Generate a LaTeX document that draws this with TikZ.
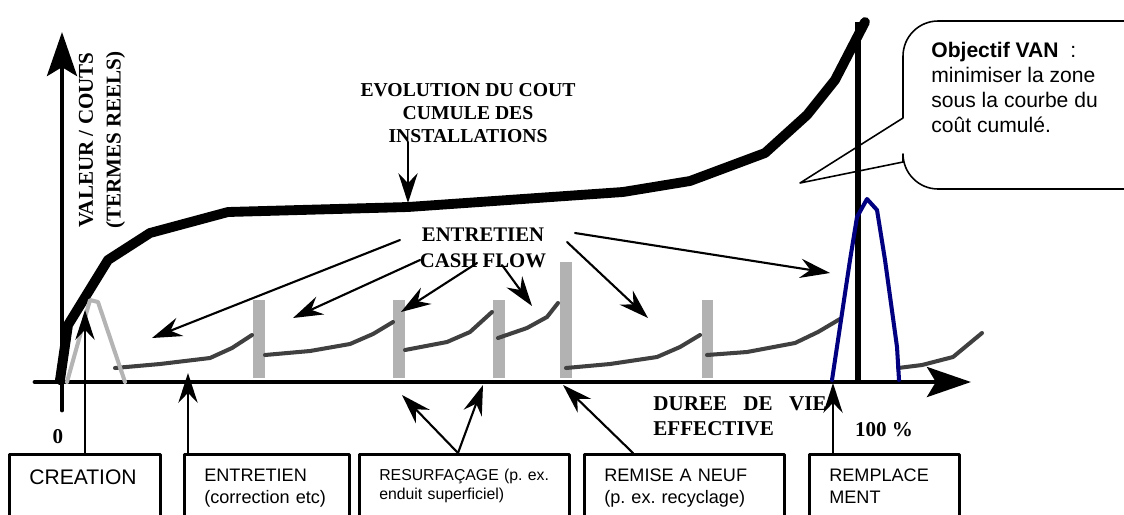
\documentclass[tikz,border=0pt]{standalone}
\usepackage{fontspec}
\setmainfont{Liberation Serif}
\setsansfont{Liberation Sans}
\usetikzlibrary{arrows.meta}
\frenchspacing

\definecolor{careGray}{HTML}{404040}
\definecolor{barGray}{HTML}{B2B2B2}
\definecolor{peakGray}{HTML}{B4B4B4}
\definecolor{peakBlue}{HTML}{000080}

\begin{document}
\begin{tikzpicture}[
            x=0.02cm, y=-0.02cm,
            line cap=round, line join=round,
            axis/.style={line width=2.8pt, -{Stealth[length=25pt, width=17pt, inset=5pt]}},
            cost curve/.style={line width=5.6pt},
            care curve/.style={line width=2.3pt, careGray},
            peak curve/.style={line width=2.3pt},
            pointer/.style={line width=1.2pt, -{Stealth[length=17pt, width=11pt, inset=5.7pt]}},
            head label/.style={font=\bfseries\fontsize{12}{14.2}\selectfont, inner sep=0pt},
            phase box/.style={draw, line width=1.5pt, anchor=north west, align=left,
                inner xsep=0.4cm, inner ysep=0.3cm, text depth=1.2cm,
                font=\sffamily\fontsize{10.3}{12.5}\selectfont},
        ]
        \def\ybase{382}

        \useasboundingbox (0,0) rectangle (1124,514);
        \clip (0,0) rectangle (1124,514);

        % Callout for the NPV objective.
        \draw[line width=0.9pt] (903,118) -- (800,183) -- (903,162)
            [rounded corners=20pt] -- (903,189) -- (1180,189) -- (1180,21) -- (903,21) -- (903,118);

        % Interventions along the service life.
        \fill[barGray] (253,300) rectangle (265,378);
        \fill[barGray] (393,300) rectangle (405,378);
        \fill[barGray] (493,300) rectangle (505,378);
        \fill[barGray] (560,262) rectangle (572,378);
        \fill[barGray] (702,300) rectangle (713,378);

        \draw[care curve] (115,368) -- (160,364) -- (210,358) -- (232,348) -- (252,335);
        \draw[care curve] (265,355) -- (310,351) -- (350,344) -- (373,334) -- (393,322);
        \draw[care curve] (405,350) -- (447,342) -- (470,332) -- (492,312);
        \draw[care curve] (498,338) -- (527,328) -- (547,317) -- (558,303);
        \draw[care curve] (566,368) -- (610,364) -- (657,357) -- (680,347) -- (700,335);
        \draw[care curve] (707,355) -- (747,352) -- (795,343) -- (818,332) -- (840,319);
        \draw[care curve] (898,368) -- (922,365) -- (953,357) -- (982,333);

        % Axes and end of effective life.
        \draw[axis] (62,410) -- (62,32);
        \draw[axis] (35,\ybase) -- (971,\ybase);
        \draw[line width=3pt, line cap=butt] (858,\ybase) -- (858,22);

        % Cumulative cost of the installations.
        \draw[cost curve] (60,380) -- (68,325) -- (108,260) -- (150,233) -- (228,212) -- (408,207)
            -- (623,192) -- (690,181) -- (765,153) -- (807,115) -- (835,80) -- (865,22);

        % Creation and replacement peaks.
        \draw[peak curve, peakGray] (67,\ybase) -- (90,300) -- (98,302) -- (125,\ybase);
        \draw[peak curve, peakBlue] (832,380) -- (850,260) -- (857,217) -- (867,199) -- (877,210)
            -- (885,260) -- (897,347) -- (899,380);

        % Labels on the chart.
        \node[head label, font=\bfseries\fontsize{11.2}{13}\selectfont, align=center] (evolution) at (468,113)
            {EVOLUTION DU COUT\\CUMULE DES\\INSTALLATIONS};
        \node[head label, font=\bfseries\fontsize{12}{15.9}\selectfont, align=center, rotate=90] (valueAxis) at (102,140)
            {VALEUR / COUTS\\(TERMES REELS)};
        \node[head label, font=\bfseries\fontsize{11.8}{14.7}\selectfont, align=center] (cash) at (483,248)
            {ENTRETIEN\\CASH FLOW};
        \node[head label, align=left, anchor=north west] (lifeAxis) at (653,396)
            {\hbox to 98.6pt{DUREE\hfill DE\hfill VIE}\\EFFECTIVE};
        \node[head label] (origin) at (58,437) {0};
        \node[head label] (fullLife) at (884,430) {100 \%};

        \node[anchor=north west, inner sep=0pt, align=left, font=\sffamily\fontsize{12}{14.2}\selectfont] (goal) at (931,42)
            {\textbf{Objectif VAN}~~:\\minimiser la zone\\sous la courbe du\\coût cumulé.};

        % Phase boxes along the bottom.
        \node[phase box, text width=2.22cm, font=\sffamily\fontsize{12}{14}\selectfont] (creation) at (8,453) {CREATION};
        \node[phase box, text width=2.5cm] (upkeep) at (183,453) {ENTRETIEN\\(correction etc)};
        \node[phase box, text width=3.4cm, font=\sffamily\fontsize{9}{10.8}\selectfont] (resurfacing) at (358,453)
            {RESURFAÇAGE~(p.~ex.\\enduit superficiel)};
        \node[phase box, text width=3.2cm] (renewal) at (583,453) {REMISE A NEUF\\(p. ex. recyclage)};
        \node[phase box, text width=2.2cm] (replacement) at (808,453) {REMPLACE\\MENT};

        % Arrow ends.
        \coordinate (evolutionTail) at (408,142);
        \coordinate (evolutionTip) at (408,203);
        \coordinate (cashTailA) at (400,240);
        \coordinate (cashTipA) at (152,338);
        \coordinate (cashTailB) at (420,260);
        \coordinate (cashTipB) at (293,318);
        \coordinate (cashTailC) at (477,263);
        \coordinate (cashTipC) at (401,312);
        \coordinate (cashTailD) at (502,265);
        \coordinate (cashTipD) at (532,306);
        \coordinate (cashTailE) at (567,242);
        \coordinate (cashTipE) at (648,318);
        \coordinate (cashTailF) at (575,233);
        \coordinate (cashTipF) at (830,273);
        \coordinate (creationTip) at (85,310);
        \coordinate (upkeepTip) at (188,373);
        \coordinate (resurfacingFoot) at (458,453);
        \coordinate (resurfacingTipA) at (402,395);
        \coordinate (resurfacingTipB) at (483,385);
        \coordinate (renewalFoot) at (633,453);
        \coordinate (renewalTip) at (563,385);
        \coordinate (replacementTip) at (833,383);

        \draw[pointer] (evolutionTail) -- (evolutionTip);
        \draw[pointer] (cashTailA) -- (cashTipA);
        \draw[pointer] (cashTailB) -- (cashTipB);
        \draw[pointer] (cashTailC) -- (cashTipC);
        \draw[pointer] (cashTailD) -- (cashTipD);
        \draw[pointer] (cashTailE) -- (cashTipE);
        \draw[pointer] (cashTailF) -- (cashTipF);

        \draw[pointer] (creationTip |- creation.north) -- (creationTip);
        \draw[pointer] (upkeepTip |- upkeep.north) -- (upkeepTip);
        \draw[pointer] (resurfacingFoot) -- (resurfacingTipA);
        \draw[pointer] (resurfacingFoot) -- (resurfacingTipB);
        \draw[pointer] (renewalFoot) -- (renewalTip);
        \draw[pointer] (replacementTip |- replacement.north) -- (replacementTip);
        \end{tikzpicture}
\end{document}
